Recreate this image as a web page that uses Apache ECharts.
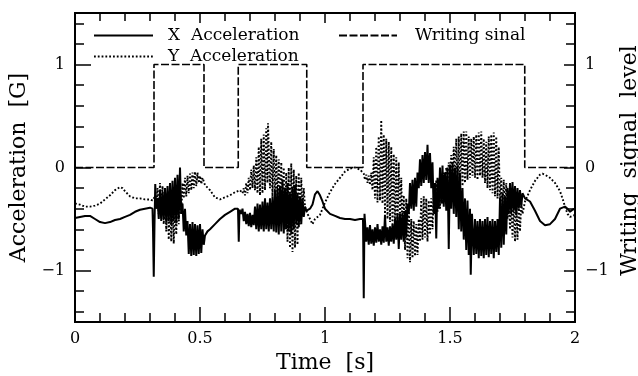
<!DOCTYPE html>
<html>
<head>
<meta charset="utf-8">
<script src="https://cdn.jsdelivr.net/npm/echarts@6/dist/echarts.min.js"></script>
<style>
html,body{margin:0;padding:0;background:#fff;}
#chart{width:638px;height:376px;}
</style>
</head>
<body>
<div id="chart"></div>
<script>
// ---- data (time [s], value) ----
const xAccel = [
[0,-0.49],[0.02,-0.48],[0.04,-0.47],[0.06,-0.47],[0.08,-0.50],[0.10,-0.53],[0.12,-0.54],[0.14,-0.53],[0.16,-0.51],[0.18,-0.50],
[0.20,-0.48],[0.22,-0.46],[0.24,-0.43],[0.26,-0.41],[0.28,-0.40],[0.30,-0.39],[0.31,-0.40],
[0.312,-0.60],[0.315,-1.06],[0.318,-0.55],[0.321,-0.16],[0.325,-0.40],[0.33,-0.30],
[0.335,-0.50],[0.34,-0.22],[0.345,-0.52],[0.35,-0.24],[0.355,-0.50],[0.36,-0.20],[0.365,-0.53],[0.37,-0.18],[0.375,-0.52],[0.38,-0.15],
[0.385,-0.55],[0.39,-0.13],[0.395,-0.52],[0.40,-0.10],[0.405,-0.54],[0.41,-0.07],[0.415,-0.50],[0.42,0.0],[0.425,-0.45],
[0.43,-0.35],[0.435,-0.62],[0.44,-0.40],[0.445,-0.66],[0.45,-0.52],[0.455,-0.84],[0.46,-0.55],[0.465,-0.86],[0.47,-0.53],[0.475,-0.85],
[0.48,-0.55],[0.485,-0.86],[0.49,-0.56],[0.495,-0.84],[0.50,-0.55],[0.505,-0.83],[0.51,-0.60],[0.515,-0.75],[0.52,-0.66],
[0.53,-0.62],[0.54,-0.60],[0.56,-0.55],[0.58,-0.50],[0.60,-0.46],[0.62,-0.43],[0.64,-0.40],[0.652,-0.40],
[0.655,-0.72],[0.658,-0.41],
[0.665,-0.45],[0.67,-0.40],[0.675,-0.52],[0.68,-0.43],[0.685,-0.55],[0.69,-0.45],[0.695,-0.57],[0.70,-0.44],[0.705,-0.58],[0.71,-0.46],
[0.715,-0.56],[0.72,-0.38],[0.725,-0.60],[0.73,-0.35],[0.735,-0.62],[0.74,-0.36],[0.745,-0.60],[0.75,-0.33],[0.755,-0.62],[0.76,-0.30],
[0.765,-0.60],[0.77,-0.34],[0.775,-0.62],[0.78,-0.30],[0.785,-0.60],[0.79,-0.28],[0.795,-0.62],[0.80,-0.22],[0.805,-0.63],[0.81,-0.20],
[0.815,-0.65],[0.82,-0.18],[0.825,-0.62],[0.83,-0.12],[0.835,-0.64],[0.84,-0.20],[0.845,-0.60],[0.85,-0.15],[0.855,-0.62],[0.86,-0.25],
[0.865,-0.65],[0.87,-0.20],[0.875,-0.60],[0.88,-0.17],[0.885,-0.55],[0.89,-0.25],[0.895,-0.58],[0.90,-0.28],[0.905,-0.55],[0.91,-0.30],
[0.915,-0.48],[0.92,-0.38],[0.925,-0.42],
[0.94,-0.40],[0.95,-0.36],[0.96,-0.26],[0.97,-0.23],[0.98,-0.27],[0.99,-0.33],[1.00,-0.40],[1.02,-0.45],[1.04,-0.47],[1.06,-0.49],
[1.08,-0.50],[1.10,-0.50],[1.12,-0.51],[1.14,-0.50],[1.152,-0.50],
[1.155,-1.27],[1.158,-0.45],[1.162,-0.60],
[1.165,-0.72],[1.17,-0.58],[1.175,-0.75],[1.18,-0.56],[1.185,-0.74],[1.19,-0.60],[1.195,-0.76],[1.20,-0.58],[1.205,-0.73],[1.21,-0.55],
[1.215,-0.72],[1.22,-0.60],[1.225,-0.75],[1.23,-0.57],[1.235,-0.73],[1.24,-0.46],[1.245,-0.72],[1.25,-0.58],[1.255,-0.76],[1.26,-0.57],
[1.265,-0.72],[1.27,-0.55],[1.275,-0.74],[1.28,-0.50],[1.285,-0.70],[1.29,-0.45],[1.295,-0.79],[1.30,-0.45],[1.305,-0.70],[1.31,-0.44],
[1.315,-0.72],[1.32,-0.42],[1.325,-0.68],[1.33,-0.35],
[1.335,-0.45],[1.34,-0.15],[1.345,-0.40],[1.35,-0.12],[1.355,-0.42],[1.36,-0.10],[1.365,-0.38],[1.37,-0.05],[1.375,-0.20],[1.38,0.08],
[1.385,-0.18],[1.39,0.12],[1.395,-0.15],[1.40,0.15],[1.405,-0.12],[1.41,0.22],[1.415,-0.15],[1.42,0.14],[1.425,-0.20],[1.43,0.05],
[1.435,-0.45],[1.44,-0.15],[1.445,-0.69],[1.45,-0.10],[1.455,-0.40],[1.46,0.0],[1.465,-0.35],[1.47,0.02],[1.475,-0.38],[1.48,-0.05],
[1.485,-0.42],[1.49,0.0],[1.495,-0.79],[1.50,0.03],[1.505,-0.40],[1.51,0.05],[1.515,-0.45],[1.52,0.0],[1.525,-0.48],[1.53,0.02],
[1.535,-0.60],[1.54,-0.05],[1.545,-0.62],[1.55,-0.20],[1.555,-0.70],[1.56,-0.30],[1.565,-0.80],[1.57,-0.32],[1.575,-0.85],[1.58,-0.40],
[1.583,-1.04],[1.588,-0.45],[1.595,-0.85],[1.60,-0.50],[1.605,-0.84],[1.61,-0.52],[1.615,-0.88],[1.62,-0.50],[1.625,-0.86],[1.63,-0.52],
[1.635,-0.88],[1.64,-0.50],[1.645,-0.85],[1.65,-0.48],[1.655,-0.87],[1.66,-0.52],[1.665,-0.84],[1.67,-0.50],[1.675,-0.88],[1.68,-0.52],
[1.685,-0.82],[1.69,-0.50],[1.695,-0.85],[1.70,-0.30],[1.705,-0.78],[1.71,-0.25],[1.715,-0.75],[1.72,-0.28],[1.725,-0.65],[1.73,-0.20],
[1.735,-0.45],[1.74,-0.15],[1.745,-0.45],[1.75,-0.14],[1.755,-0.42],[1.76,-0.18],[1.765,-0.46],[1.77,-0.20],[1.775,-0.40],[1.78,-0.22],
[1.785,-0.38],[1.79,-0.25],[1.80,-0.30],
[1.82,-0.33],[1.84,-0.42],[1.86,-0.52],[1.88,-0.56],[1.90,-0.55],[1.92,-0.50],[1.94,-0.40],[1.96,-0.38],[1.97,-0.40],[1.98,-0.43],
[1.99,-0.41],[2.00,-0.40]
];

const yAccel = [
[0,-0.35],[0.02,-0.36],[0.04,-0.38],[0.06,-0.38],[0.08,-0.37],[0.10,-0.35],[0.12,-0.31],[0.14,-0.27],[0.16,-0.22],[0.18,-0.19],
[0.19,-0.20],[0.20,-0.23],[0.22,-0.28],[0.24,-0.30],[0.26,-0.30],[0.28,-0.31],[0.30,-0.31],[0.31,-0.32],
[0.32,-0.28],[0.325,-0.40],
[0.33,-0.20],[0.335,-0.45],[0.34,-0.15],[0.345,-0.50],[0.35,-0.18],[0.355,-0.55],[0.36,-0.20],[0.365,-0.62],[0.37,-0.25],[0.375,-0.70],
[0.38,-0.30],[0.385,-0.72],[0.39,-0.35],[0.395,-0.74],[0.40,-0.32],[0.405,-0.65],[0.41,-0.28],[0.415,-0.55],[0.42,-0.20],[0.425,-0.45],
[0.43,-0.15],[0.435,-0.30],[0.44,-0.10],[0.445,-0.28],[0.45,-0.08],[0.455,-0.25],[0.46,-0.06],[0.465,-0.22],[0.47,-0.05],[0.475,-0.20],
[0.48,-0.04],[0.485,-0.18],[0.49,-0.05],[0.495,-0.15],[0.50,-0.08],[0.505,-0.16],[0.51,-0.10],[0.52,-0.17],
[0.54,-0.22],[0.56,-0.29],[0.58,-0.31],[0.60,-0.29],[0.62,-0.27],[0.64,-0.24],[0.66,-0.22],
[0.67,-0.25],[0.675,-0.20],[0.68,-0.27],[0.685,-0.15],[0.69,-0.25],[0.695,-0.10],[0.70,-0.22],[0.705,-0.02],[0.71,-0.20],[0.715,0.02],
[0.72,-0.22],[0.725,0.10],[0.73,-0.25],[0.735,0.20],[0.74,-0.27],[0.745,0.28],[0.75,-0.25],[0.755,0.32],[0.76,-0.22],[0.765,0.38],
[0.77,-0.15],[0.772,0.43],[0.78,-0.20],[0.785,0.25],[0.79,-0.28],[0.795,0.18],[0.80,-0.30],[0.805,0.12],[0.81,-0.33],[0.815,0.08],
[0.82,-0.35],[0.825,0.05],[0.83,-0.40],[0.835,0.0],[0.84,-0.60],[0.845,-0.05],[0.85,-0.72],[0.855,0.0],[0.86,-0.78],[0.865,0.04],
[0.87,-0.82],[0.875,-0.02],[0.88,-0.78],[0.885,-0.08],[0.89,-0.75],[0.895,-0.05],[0.90,-0.55],[0.905,-0.10],[0.91,-0.40],[0.915,-0.20],
[0.92,-0.38],[0.93,-0.45],
[0.94,-0.50],[0.95,-0.55],[0.96,-0.50],[0.97,-0.48],[0.98,-0.46],[0.99,-0.40],[1.00,-0.34],[1.02,-0.24],[1.04,-0.16],[1.06,-0.10],
[1.08,-0.04],[1.10,-0.01],[1.12,0.0],[1.14,-0.02],[1.155,-0.06],
[1.16,-0.12],[1.165,-0.07],[1.17,-0.15],[1.175,-0.08],[1.18,-0.17],[1.185,-0.05],[1.19,-0.22],[1.195,0.10],[1.20,-0.30],[1.205,0.20],
[1.21,-0.34],[1.215,0.30],[1.22,-0.32],[1.225,0.46],[1.23,-0.35],[1.235,0.32],[1.24,-0.45],[1.245,0.28],[1.25,-0.50],[1.255,0.25],
[1.26,-0.53],[1.265,0.20],[1.27,-0.55],[1.275,0.13],[1.28,-0.58],[1.285,0.10],[1.29,-0.60],[1.295,0.05],[1.30,-0.55],[1.305,-0.10],
[1.31,-0.65],[1.315,-0.27],[1.32,-0.80],[1.325,-0.30],[1.33,-0.88],[1.335,-0.35],[1.34,-0.92],[1.345,-0.50],[1.35,-0.88],[1.355,-0.52],
[1.36,-0.86],[1.365,-0.55],[1.37,-0.85],[1.375,-0.50],[1.38,-0.72],[1.385,-0.30],[1.39,-0.70],[1.395,-0.28],[1.40,-0.68],[1.405,-0.30],
[1.41,-0.72],[1.415,-0.32],[1.42,-0.65],[1.425,-0.30],[1.43,-0.60],[1.435,-0.28],[1.44,-0.45],[1.445,-0.12],[1.45,-0.43],[1.455,-0.12],
[1.46,-0.40],[1.465,-0.10],[1.47,-0.35],[1.475,-0.05],[1.48,-0.20],[1.485,0.0],[1.49,-0.15],[1.495,0.05],[1.50,-0.10],[1.505,0.12],
[1.51,-0.12],[1.515,0.20],[1.52,-0.15],[1.525,0.28],[1.53,-0.18],[1.535,0.30],[1.54,-0.20],[1.545,0.33],[1.55,-0.18],[1.555,0.35],
[1.56,-0.15],[1.565,0.35],[1.57,-0.12],[1.575,0.30],[1.58,-0.10],[1.585,0.28],[1.59,-0.08],[1.595,0.30],[1.60,-0.10],[1.605,0.32],
[1.61,-0.12],[1.615,0.34],[1.62,-0.08],[1.625,0.35],[1.63,-0.10],[1.635,0.28],[1.64,-0.15],[1.645,0.25],[1.65,-0.20],[1.655,0.30],
[1.66,-0.22],[1.665,0.32],[1.67,-0.25],[1.675,0.34],[1.68,-0.28],[1.685,0.30],[1.69,-0.30],[1.695,0.20],[1.70,-0.35],[1.705,-0.10],
[1.71,-0.40],[1.715,-0.12],[1.72,-0.43],[1.725,-0.15],[1.73,-0.50],[1.735,-0.25],[1.74,-0.60],[1.745,-0.30],[1.75,-0.68],[1.755,-0.32],
[1.76,-0.72],[1.765,-0.35],[1.77,-0.70],[1.775,-0.32],[1.78,-0.62],[1.785,-0.35],[1.79,-0.45],[1.80,-0.33],
[1.82,-0.22],[1.84,-0.13],[1.86,-0.07],[1.87,-0.06],[1.88,-0.07],[1.90,-0.10],[1.92,-0.15],[1.94,-0.23],[1.95,-0.30],[1.96,-0.38],
[1.97,-0.45],[1.98,-0.48],[2.00,-0.46]
];

const writeSignal = [
[0,0],[0.316,0],[0.316,1],[0.516,1],[0.516,0],[0.653,0],[0.653,1],[0.927,1],[0.927,0],
[1.152,0],[1.152,1],[1.799,1],[1.799,0],[2,0]
];

const xTickLabels = ['0','0.5','1','1.5','2'];
const yMajorTicks = [-1, 0, 1];
const yMinorTicks = [-1.4,-1.2,-1.0,-0.8,-0.6,-0.4,-0.2,0,0.2,0.4,0.6,0.8,1.0,1.2,1.4];

const FONT = 'DejaVu Serif';
const fmtY = v => (v < 0 ? '\u2212' + Math.abs(v) : String(v));
const fmtX = v => {
  const i = Math.round(v / 0.5);
  return xTickLabels[i] !== undefined ? xTickLabels[i] : '';
};

const chart = echarts.init(document.getElementById('chart'), null, {renderer: 'canvas'});

const axisLine = {show: true, onZero: false, lineStyle: {color: '#000', width: 2}};

function xAxisDef(pos, majorLen, minorLen, showLabel, name) {
  return {
    type: 'value', position: pos, min: 0, max: 2, interval: 0.5,
    name: name || '', nameLocation: 'middle', nameGap: 30,
    nameTextStyle: {fontFamily: FONT, fontSize: 22, color: '#000'},
    axisLine: axisLine,
    axisTick: {show: true, inside: true, length: majorLen, lineStyle: {color: '#000', width: 1.5}},
    minorTick: {show: true, splitNumber: 5, length: minorLen, lineStyle: {color: '#000', width: 1.5}},
    axisLabel: {show: showLabel, formatter: fmtX, margin: 9, fontFamily: FONT, fontSize: 16, color: '#000'},
    splitLine: {show: false}, minorSplitLine: {show: false}
  };
}

function yAxisDef(pos, ticks, len, showLabel, name, nameGap, namePad) {
  return {
    type: 'value', position: pos, min: -1.5, max: 1.5,
    name: name || '', nameLocation: 'middle', nameGap: nameGap || 30,
    nameTextStyle: {fontFamily: FONT, fontSize: 22, color: '#000', padding: namePad || 0},
    axisLine: axisLine,
    axisTick: {show: true, inside: true, length: len, customValues: ticks, lineStyle: {color: '#000', width: 1.5}},
    axisLabel: {show: showLabel, customValues: yMajorTicks, formatter: fmtY, margin: 10, fontFamily: FONT, fontSize: 16, color: '#000'},
    splitLine: {show: false}
  };
}

const legendText = {fontFamily: FONT, fontSize: 17, color: '#000', lineHeight: 14};

const option = {
  animation: false,
  backgroundColor: '#fff',
  grid: {left: 75, right: 63, top: 13, bottom: 54, containLabel: false, outerBoundsMode: 'none'},
  legend: [
    {
      data: ['X  Acceleration', 'Y  Acceleration'], orient: 'vertical', left: 93, top: 27, padding: 0,
      itemWidth: 59, itemHeight: 14, itemGap: 4,
      itemStyle: {opacity: 0},
      textStyle: Object.assign({padding: [0, 0, 0, 10]}, legendText)
    },
    {
      data: ['Writing sinal'], orient: 'vertical', left: 338, top: 27, padding: 0,
      itemWidth: 58, itemHeight: 14, itemGap: 4,
      itemStyle: {opacity: 0},
      textStyle: Object.assign({padding: [0, 0, 0, 13]}, legendText)
    }
  ],
  xAxis: [
    xAxisDef('bottom', 15, 9, true, 'Time  [s]'),
    xAxisDef('top', 10, 8, false, '')
  ],
  yAxis: [
    yAxisDef('left', yMajorTicks, 16, true, 'Acceleration  [G]', 30),
    yAxisDef('left', yMinorTicks, 9, false, '', 30),
    yAxisDef('right', yMajorTicks, 11, true, 'Writing  signal  level', 32, [0, 0, 0, 14]),
    yAxisDef('right', yMinorTicks, 9, false, '', 30)
  ],
  series: [
    {
      name: 'Y  Acceleration', type: 'line', xAxisIndex: 0, yAxisIndex: 0, data: yAccel,
      showSymbol: false, symbol: 'none', clip: true,
      lineStyle: {color: '#000', width: 1.9, type: [1.8, 2]}, itemStyle: {color: '#000'}
    },
    {
      name: 'X  Acceleration', type: 'line', xAxisIndex: 0, yAxisIndex: 0, data: xAccel,
      showSymbol: false, symbol: 'none', clip: true,
      lineStyle: {color: '#000', width: 2}, itemStyle: {color: '#000'}
    },
    {
      name: 'Writing sinal', type: 'line', xAxisIndex: 0, yAxisIndex: 2, data: writeSignal,
      showSymbol: false, symbol: 'none', clip: true,
      lineStyle: {color: '#000', width: 1.6, type: [8, 2.5]}, itemStyle: {color: '#000'}
    }
  ]
};
chart.setOption(option);
</script>
</body>
</html>
